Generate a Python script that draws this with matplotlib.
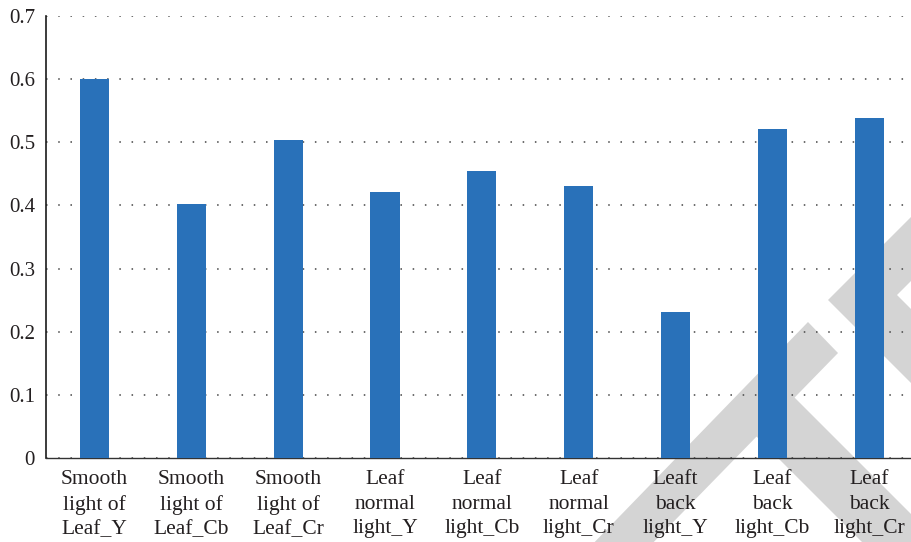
import matplotlib
matplotlib.use('Agg')
import matplotlib.pyplot as plt
from matplotlib.patches import Polygon

# data
categories = ['Smooth\nlight of\nLeaf_Y', 'Smooth\nlight of\nLeaf_Cb', 'Smooth\nlight of\nLeaf_Cr',
              'Leaf\nnormal\nlight_Y', 'Leaf\nnormal\nlight_Cb', 'Leaf\nnormal\nlight_Cr',
              'Leaft\nback\nlight_Y', 'Leaf\nback\nlight_Cb', 'Leaf\nback\nlight_Cr']
values = [0.601, 0.403, 0.503, 0.421, 0.454, 0.430, 0.232, 0.521, 0.538]
yticks = [0, 0.1, 0.2, 0.3, 0.4, 0.5, 0.6, 0.7]
ytick_labels = ['0', '0.1', '0.2', '0.3', '0.4', '0.5', '0.6', '0.7']

W, H = 911, 542
plt.rcParams['font.family'] = ['Liberation Serif', 'DejaVu Serif']
fig = plt.figure(figsize=(W / 100, H / 100), dpi=100)
ax = fig.add_axes([46 / W, 1 - 458 / H, 1 - 46 / W, (458 - 16) / H])
ax.set_facecolor('none')


# grey watermark behind the chart (pixel coords, y from top)
def px(pts):
    return [(x / W, 1 - y / H) for x, y in pts]


wm = '#d4d4d4'
shapes = [
    [(808, 322), (838, 353), (645, 551), (586, 551)],        # long stroke
    [(775, 378), (960, 563), (883, 563), (740, 420)],        # lower cross arm
    [(828, 300), (925, 203), (925, 267), (897, 295),
     (925, 323), (925, 397)],                                # chevron at right
]
for s in shapes:
    fig.patches.append(Polygon(px(s), closed=True, transform=fig.transFigure,
                               facecolor=wm, edgecolor='none', zorder=-5))

x = list(range(len(categories)))
ax.bar(x, values, width=0.3, color='#2971b9', zorder=3)

ax.set_xlim(-0.5, 8.43)
ax.set_ylim(0, 0.7)
ax.set_yticks(yticks)
ax.set_yticklabels(ytick_labels)
ax.set_xticks(x)
ax.set_xticklabels(categories, linespacing=1.38)

ax.yaxis.grid(True, color='#444444', linewidth=1.1, linestyle=(0, (1, 7)), zorder=1)
ax.set_axisbelow(True)

for side in ['top', 'right']:
    ax.spines[side].set_visible(False)
ax.spines['left'].set_color('#1a1a1a')
ax.spines['left'].set_linewidth(1.2)
ax.spines['bottom'].set_color('#333333')
ax.spines['bottom'].set_linewidth(1.0)

ax.tick_params(axis='y', length=0, pad=8, labelsize=15, labelcolor='#231f20')
ax.tick_params(axis='x', length=0, pad=9, labelsize=15.5, labelcolor='#231f20')

fig.savefig('out.png', dpi=100)
